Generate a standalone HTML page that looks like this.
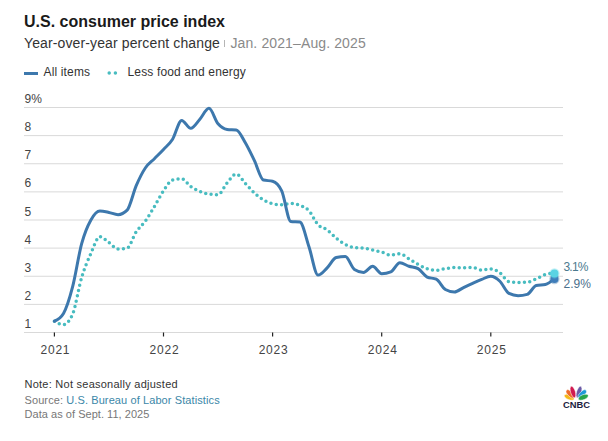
<!DOCTYPE html>
<html><head><meta charset="utf-8">
<style>
html,body{margin:0;padding:0;background:#fff;}
body{width:608px;height:441px;overflow:hidden;position:relative;font-family:"Liberation Sans",sans-serif;}
.t{position:absolute;white-space:nowrap;}
#title{left:24px;top:12.5px;font-size:16px;font-weight:bold;color:#1a1a1a;}
#sub{left:24px;top:34.5px;font-size:14px;color:#333;letter-spacing:0.12px;}
#sub span{color:#8a8a8a;}
.bar{display:inline-block;width:1.6px;height:7px;background:#b5b5b5;margin:0 5.2px 0 3.7px;vertical-align:baseline;position:relative;top:-0.6px;}
svg{position:absolute;left:0;top:0;}
.note{left:24.5px;font-size:11px;color:#333;}
</style></head><body>
<div class="t" id="title">U.S. consumer price index</div>
<div class="t" id="sub">Year-over-year percent change<i class="bar"></i><span>Jan. 2021–Aug. 2025</span></div>
<svg width="608" height="441" viewBox="0 0 608 441">
<g stroke="#d9d9d9" stroke-width="1"><line x1="24" x2="563" y1="332.50" y2="332.50"/><line x1="24" x2="563" y1="304.38" y2="304.38"/><line x1="24" x2="563" y1="276.25" y2="276.25"/><line x1="24" x2="563" y1="248.12" y2="248.12"/><line x1="24" x2="563" y1="220.00" y2="220.00"/><line x1="24" x2="563" y1="191.88" y2="191.88"/><line x1="24" x2="563" y1="163.75" y2="163.75"/><line x1="24" x2="563" y1="135.62" y2="135.62"/><line x1="24" x2="563" y1="107.50" y2="107.50"/></g>
<g stroke="#222" stroke-width="1.2"><line x1="54.40" x2="54.40" y1="332.50" y2="336.50"/><line x1="163.50" x2="163.50" y1="332.50" y2="336.50"/><line x1="272.60" x2="272.60" y1="332.50" y2="336.50"/><line x1="381.70" x2="381.70" y1="332.50" y2="336.50"/><line x1="490.80" x2="490.80" y1="332.50" y2="336.50"/></g>
<g font-family="Liberation Sans" font-size="12" fill="#444"><text x="24.5" y="328.00">1</text><text x="24.5" y="299.88">2</text><text x="24.5" y="271.75">3</text><text x="24.5" y="243.62">4</text><text x="24.5" y="215.50">5</text><text x="24.5" y="187.38">6</text><text x="24.5" y="159.25">7</text><text x="24.5" y="131.12">8</text><text x="24.5" y="103.00">9%</text></g>
<g font-family="Liberation Sans" font-size="12" fill="#444"><text x="55.40" y="354" text-anchor="middle" letter-spacing="0.8">2021</text><text x="164.50" y="354" text-anchor="middle" letter-spacing="0.8">2022</text><text x="273.60" y="354" text-anchor="middle" letter-spacing="0.8">2023</text><text x="382.70" y="354" text-anchor="middle" letter-spacing="0.8">2024</text><text x="491.80" y="354" text-anchor="middle" letter-spacing="0.8">2025</text></g>
<line x1="24" x2="38" y1="73.5" y2="73.5" stroke="#3d78ad" stroke-width="3"/>
<line x1="109.2" x2="115.4" y1="73" y2="73" stroke="#48bcc0" stroke-width="3.5" stroke-linecap="round" stroke-dasharray="0 6.2"/>
<text x="43.5" y="75.5" font-family="Liberation Sans" font-size="12" fill="#333" letter-spacing="0.15">All items</text>
<text x="127.5" y="75.5" font-family="Liberation Sans" font-size="12" fill="#333" letter-spacing="0.15">Less food and energy</text>
<path d="M54.40,321.25C57.43,322.94,60.46,324.62,63.49,324.62C66.52,324.62,69.55,321.16,72.58,314.22C75.61,307.28,78.64,287.45,81.67,277.38C84.71,267.30,87.74,260.55,90.77,253.75C93.80,246.95,96.83,236.59,99.86,236.59C102.89,236.59,105.92,240.44,108.95,242.50C111.98,244.56,115.01,248.97,118.04,248.97C121.07,248.97,124.10,248.69,127.13,248.12C130.16,247.56,133.19,236.31,136.22,231.81C139.26,227.31,142.29,225.34,145.32,221.12C148.35,216.91,151.38,211.56,154.41,206.50C157.44,201.44,160.47,195.16,163.50,190.75C166.53,186.34,169.56,181.00,172.59,180.06C175.62,179.12,178.65,178.66,181.68,178.66C184.71,178.66,187.74,184.42,190.78,186.53C193.81,188.64,196.84,190.05,199.87,191.31C202.90,192.58,205.93,193.75,208.96,194.12C211.99,194.50,215.02,194.69,218.05,194.69C221.08,194.69,224.11,186.30,227.14,182.88C230.17,179.45,233.20,174.16,236.23,174.16C239.26,174.16,242.29,180.30,245.33,183.44C248.36,186.58,251.39,190.23,254.42,193.00C257.45,195.77,260.48,198.25,263.51,200.03C266.54,201.81,269.57,202.94,272.60,203.69C275.63,204.44,278.66,204.81,281.69,204.81C284.72,204.81,287.75,203.41,290.78,203.41C293.81,203.41,296.84,204.16,299.88,205.38C302.91,206.59,305.94,207.48,308.97,210.72C312.00,213.95,315.03,221.59,318.06,224.78C321.09,227.97,324.12,227.59,327.15,229.84C330.18,232.09,333.21,235.84,336.24,238.28C339.27,240.72,342.30,242.92,345.33,244.47C348.36,246.02,351.39,247.19,354.42,247.56C357.46,247.94,360.49,247.75,363.52,248.12C366.55,248.50,369.58,249.44,372.61,250.09C375.64,250.75,378.67,251.22,381.70,252.06C384.73,252.91,387.76,255.16,390.79,255.16C393.82,255.16,396.85,253.75,399.88,253.75C402.91,253.75,405.94,257.03,408.97,258.81C412.01,260.59,415.04,262.80,418.07,264.44C421.10,266.08,424.13,267.67,427.16,268.66C430.19,269.64,433.22,270.34,436.25,270.34C439.28,270.34,442.31,269.12,445.34,268.66C448.37,268.19,451.40,267.53,454.43,267.53C457.46,267.53,460.49,267.81,463.52,267.81C466.56,267.81,469.59,267.53,472.62,267.53C475.65,267.53,478.68,270.06,481.71,270.06C484.74,270.06,487.77,268.94,490.80,268.94C493.83,268.94,496.86,270.77,499.89,272.88C502.92,274.98,505.95,281.03,508.98,281.59C512.01,282.16,515.04,282.44,518.08,282.44C521.11,282.44,524.14,282.34,527.17,282.16C530.20,281.97,533.23,280.05,536.26,278.78C539.29,277.52,542.32,275.50,545.35,274.56C548.38,273.62,551.41,273.39,554.44,273.16" fill="none" stroke="#48bcc0" stroke-width="3.5" stroke-linecap="round" stroke-dasharray="0 5.4"/>
<path d="M54.40,321.25C57.43,319.96,60.46,318.66,63.49,313.49C66.52,308.31,69.55,298.58,72.58,286.94C75.61,275.29,78.64,254.75,81.67,243.62C84.71,232.50,87.74,225.63,90.77,220.20C93.80,214.76,96.83,211.00,99.86,211.00C102.89,211.00,105.92,211.80,108.95,212.41C111.98,213.02,115.01,214.66,118.04,214.66C121.07,214.66,124.10,213.16,127.13,210.16C130.16,207.16,133.19,192.66,136.22,185.63C139.26,178.60,142.29,172.46,145.32,167.97C148.35,163.48,151.38,161.78,154.41,158.69C157.44,155.59,160.47,152.65,163.50,149.41C166.53,146.17,169.56,144.09,172.59,139.25C175.62,134.42,178.65,120.38,181.68,120.38C184.71,120.38,187.74,128.34,190.78,128.34C193.81,128.34,196.84,122.59,199.87,119.26C202.90,115.92,205.93,108.34,208.96,108.34C211.99,108.34,215.02,120.30,218.05,123.81C221.08,127.33,224.11,129.10,227.14,129.44C230.17,129.77,233.20,129.61,236.23,129.94C239.26,130.28,242.29,137.68,245.33,142.80C248.36,147.92,251.39,154.45,254.42,160.66C257.45,166.87,260.48,179.31,263.51,180.06C266.54,180.81,269.57,180.44,272.60,181.19C275.63,181.94,278.66,184.41,281.69,190.86C284.72,197.31,287.75,221.03,290.78,221.41C293.81,221.78,296.84,221.59,299.88,221.97C302.91,222.34,305.94,237.92,308.97,246.78C312.00,255.63,315.03,275.12,318.06,275.12C321.09,275.12,324.12,270.74,327.15,267.81C330.18,264.88,333.21,258.20,336.24,257.55C339.27,256.89,342.30,256.56,345.33,256.56C348.36,256.56,351.39,267.52,354.42,269.47C357.46,271.42,360.49,272.40,363.52,272.40C366.55,272.40,369.58,266.35,372.61,266.35C375.64,266.35,378.67,273.69,381.70,273.69C384.73,273.69,387.76,273.11,390.79,271.95C393.82,270.78,396.85,262.83,399.88,262.83C402.91,262.83,405.94,265.23,408.97,266.21C412.01,267.18,415.04,267.03,418.07,268.68C421.10,270.33,424.13,275.64,427.16,277.07C430.19,278.49,433.22,277.78,436.25,279.20C439.28,280.63,442.31,287.75,445.34,289.44C448.37,291.13,451.40,291.97,454.43,291.97C457.46,291.97,460.49,289.00,463.52,287.56C466.56,286.11,469.59,284.67,472.62,283.31C475.65,281.95,478.68,280.58,481.71,279.40C484.74,278.22,487.77,276.25,490.80,276.25C493.83,276.25,496.86,278.40,499.89,281.26C502.92,284.11,505.95,291.88,508.98,293.38C512.01,294.88,515.04,295.63,518.08,295.63C521.11,295.63,524.14,295.22,527.17,294.39C530.20,293.57,533.23,286.23,536.26,285.56C539.29,284.88,542.32,285.22,545.35,284.55C548.38,283.87,551.41,281.24,554.44,278.61" fill="none" stroke="#3d78ad" stroke-width="3" stroke-linejoin="round" stroke-linecap="round"/>
<circle cx="554.44" cy="279.06" r="5.2" fill="#3d78ad" opacity="0.35"/>
<circle cx="554.44" cy="279.06" r="4" fill="#3f7dba"/>
<circle cx="554.44" cy="273.44" r="5.2" fill="#5ad6e6" opacity="0.35"/>
<circle cx="554.44" cy="273.44" r="4" fill="#5ad3e3"/>
<text x="563.5" y="271" font-family="Liberation Sans" font-size="12" fill="#4b7a8e" letter-spacing="-0.8">3.1%</text>
<text x="563.5" y="287.6" font-family="Liberation Sans" font-size="12" fill="#4a6f8c">2.9%</text>
<g id="logo">
<ellipse cx="569.2" cy="397.2" rx="5.3" ry="2.5" fill="#f6b91a" stroke="#fff" stroke-width="0.5" transform="rotate(22 569.2 397.2)"/>
<ellipse cx="570.2" cy="393.9" rx="5.3" ry="2.4" fill="#ef6b2a" stroke="#fff" stroke-width="0.5" transform="rotate(45 570.2 393.9)"/>
<ellipse cx="573" cy="392" rx="6" ry="2.4" fill="#d11a4f" stroke="#fff" stroke-width="0.5" transform="rotate(72 573 392)"/>
<ellipse cx="579" cy="392" rx="6" ry="2.4" fill="#6c5aa6" stroke="#fff" stroke-width="0.5" transform="rotate(-72 579 392)"/>
<ellipse cx="582.3" cy="393.9" rx="5.3" ry="2.4" fill="#1d9ad6" stroke="#fff" stroke-width="0.5" transform="rotate(-45 582.3 393.9)"/>
<ellipse cx="583.3" cy="397.2" rx="5.3" ry="2.5" fill="#27a44a" stroke="#fff" stroke-width="0.5" transform="rotate(-22 583.3 397.2)"/>
<text x="563" y="407.6" font-family="Liberation Sans" font-weight="bold" font-size="8.4" fill="#1b2140" textLength="27" lengthAdjust="spacingAndGlyphs">CNBC</text>
</g>
</svg>
<div class="t note" style="top:378px;letter-spacing:0.25px;">Note: Not seasonally adjusted</div>
<div class="t note" style="top:394px;color:#777;letter-spacing:0.1px;">Source: <span style="color:#3b87a8">U.S. Bureau of Labor Statistics</span></div>
<div class="t note" style="top:408px;color:#777;letter-spacing:0.04px;">Data as of Sept. 11, 2025</div>
</body></html>
